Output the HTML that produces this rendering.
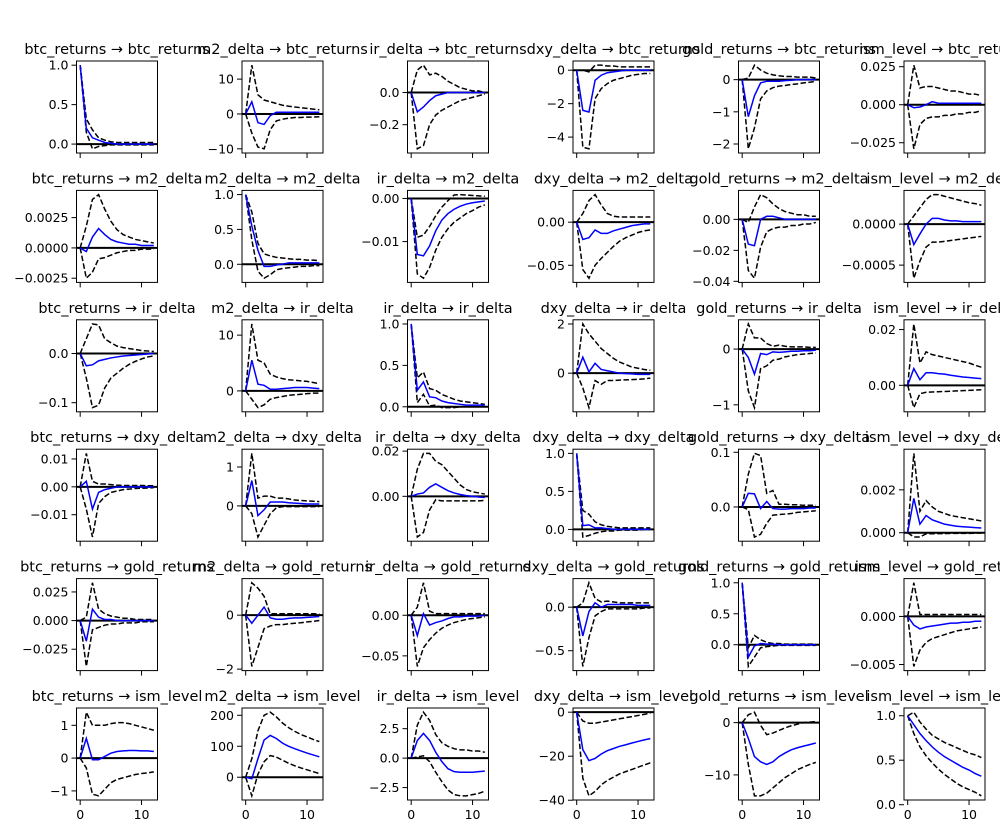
<!DOCTYPE html>
<html><head><meta charset="utf-8">
<style>
html,body{margin:0;padding:0;background:#fff;}
svg{display:block;font-family:"DejaVu Sans","Liberation Sans",sans-serif;}
</style></head>
<body>
<svg id="fig" width="1000" height="833" viewBox="0 0 1000 833" xmlns="http://www.w3.org/2000/svg"></svg>
<script>
const varNames = ["btc_returns","m2_delta","ir_delta","dxy_delta","gold_returns","ism_level"];
const horizons = [0,1,2,3,4,5,6,7,8,9,10,11,12];
const xTicks = [0,10];
// index = row*6 + col ; row = response, col = impulse
const irf = [
[1,0.2,0.08,0.05,0.02,0.01,0,0,0,0,0,0,0],
[0,3.5,-2.5,-3,-0.5,0.5,0.5,0.5,0.5,0.5,0.5,0.5,0.5],
[0,-0.12,-0.09,-0.05,-0.02,-0.01,0,0,0,0,0,0,0],
[0,-2.4,-2.5,-0.6,-0.3,-0.15,-0.1,-0.05,0,0,0,0,0],
[0,-1.15,-0.5,-0.1,-0.05,-0.05,-0.05,-0.03,-0.02,0,0,0,0],
[0,-0.002,-0.0015,0,0.002,0.001,0.001,0.001,0.001,0.001,0.001,0.001,0.001],
[0,-0.0003,0.0009,0.0016,0.0011,0.0007,0.0005,0.0004,0.0003,0.0003,0.0002,0.0002,0.0002],
[1,0.55,0.2,-0.03,-0.03,-0.01,0,0.02,0.02,0.02,0.02,0.02,0.02],
[0,-0.013,-0.0133,-0.011,-0.0075,-0.005,-0.0035,-0.0025,-0.0018,-0.0013,-0.001,-0.0008,-0.0006],
[0,-0.02,-0.018,-0.009,-0.013,-0.013,-0.01,-0.008,-0.006,-0.004,-0.003,-0.002,-0.002],
[0,-0.016,-0.017,0,0.002,0.002,0.001,0,0,0,0,0,0],
[0,-0.00025,-0.00012,0,0.00007,0.00007,0.00005,0.00004,0.00004,0.00003,0.00003,0.00003,0.00003],
[0,-0.025,-0.023,-0.015,-0.012,-0.009,-0.007,-0.005,-0.004,-0.003,-0.002,-0.001,0],
[0,5.5,1.2,1,0.3,0.3,0.4,0.5,0.6,0.6,0.6,0.5,0.4],
[1,0.2,0.3,0.12,0.11,0.07,0.05,0.04,0.03,0.02,0.02,0.02,0.02],
[0,0.65,0.05,0.4,0.15,0.1,0.05,0,-0.02,-0.03,-0.05,-0.05,-0.05],
[0,-0.15,-0.45,-0.08,-0.1,-0.05,-0.06,-0.05,-0.04,-0.04,-0.03,-0.03,-0.02],
[0,0.006,0.002,0.0045,0.0045,0.0042,0.004,0.0036,0.0033,0.003,0.0028,0.0026,0.0024],
[0,0.002,-0.008,-0.002,-0.001,-0.0005,0,0,0,0,0,0,0],
[0,0.65,-0.25,-0.1,0.1,0.1,0.1,0.08,0.07,0.06,0.05,0.05,0.05],
[0,0.001,0.0015,0.004,0.0055,0.004,0.0025,0.0015,0.0008,0.0003,0,-0.0003,-0.0005],
[1,0.05,0.06,0.02,0.02,0.01,0,0,0,0,0,0,0],
[0,0.025,0.024,-0.003,0.01,-0.003,-0.004,-0.004,-0.003,-0.003,-0.003,-0.002,-0.002],
[0,0.0016,0.0004,0.0008,0.0006,0.0005,0.0004,0.00035,0.0003,0.00028,0.00026,0.00024,0.00022],
[0,-0.018,0.01,0.003,0.001,0.001,0,0,0,0,0,0,0],
[0,-0.3,0,0.3,-0.1,-0.15,-0.15,-0.12,-0.1,-0.1,-0.08,-0.07,-0.05],
[0,-0.025,0.002,-0.012,-0.009,-0.007,-0.004,-0.002,-0.002,-0.001,-0.001,-0.001,0],
[0,-0.33,-0.05,0.05,0,0.03,0.03,0.03,0.03,0.03,0.02,0.02,0.02],
[1,-0.2,-0.02,0.02,0.01,0.01,0,0,0,0,0,0,0],
[0,-0.0009,-0.0013,-0.0011,-0.001,-0.0009,-0.0008,-0.0007,-0.0007,-0.0006,-0.0006,-0.0005,-0.0005],
[0,0.6,-0.05,-0.05,0.05,0.15,0.2,0.22,0.23,0.23,0.22,0.22,0.2],
[0,-5,60,120,135,125,110,100,92,85,78,72,66],
[0,1.5,2.1,1.5,0.5,-0.3,-0.9,-1.15,-1.2,-1.2,-1.2,-1.15,-1.1],
[0,-17,-22,-21,-19,-17.5,-16.5,-15.5,-14.8,-14,-13.3,-12.6,-12],
[0,-3,-6.5,-7.5,-8,-7.5,-6.5,-5.8,-5.2,-4.8,-4.5,-4.2,-3.9],
[1,0.9,0.8,0.72,0.65,0.59,0.54,0.5,0.46,0.42,0.39,0.35,0.32]
];
const lower = [
[1,0.15,-0.06,-0.03,-0.02,-0.01,-0.01,-0.01,-0.01,-0.01,-0.01,-0.01,-0.01],
[0,-5.5,-9.5,-10,-4.5,-2,-1.5,-1.2,-1,-1,-0.9,-0.9,-0.8],
[0,-0.35,-0.33,-0.2,-0.14,-0.11,-0.09,-0.07,-0.05,-0.04,-0.03,-0.02,-0.01],
[0,-4.6,-4.7,-1.7,-1.1,-0.8,-0.6,-0.5,-0.4,-0.3,-0.25,-0.2,-0.2],
[0,-2.15,-1.5,-0.6,-0.35,-0.25,-0.2,-0.18,-0.15,-0.13,-0.1,-0.08,-0.05],
[0,-0.029,-0.013,-0.009,-0.008,-0.008,-0.007,-0.007,-0.006,-0.006,-0.005,-0.005,-0.004],
[0,-0.0025,-0.002,-0.0009,-0.0008,-0.0006,-0.0004,-0.0003,-0.0002,-0.0002,-0.0001,-0.0001,-0.0001],
[1,0.35,-0.1,-0.2,-0.15,-0.08,-0.06,-0.05,-0.04,-0.03,-0.03,-0.02,-0.02],
[0,-0.0175,-0.0185,-0.016,-0.012,-0.009,-0.007,-0.0055,-0.0045,-0.0035,-0.0028,-0.002,-0.0015],
[0,-0.055,-0.065,-0.05,-0.042,-0.035,-0.028,-0.022,-0.018,-0.015,-0.012,-0.01,-0.009],
[0,-0.033,-0.038,-0.018,-0.008,-0.006,-0.005,-0.005,-0.004,-0.004,-0.003,-0.003,-0.002],
[0,-0.00066,-0.00045,-0.00028,-0.00022,-0.00022,-0.00021,-0.0002,-0.00019,-0.00018,-0.00017,-0.00016,-0.00015],
[0,-0.05,-0.11,-0.105,-0.07,-0.05,-0.04,-0.03,-0.022,-0.016,-0.011,-0.007,-0.005],
[0,-1.5,-3,-2.5,-1.5,-1.2,-1,-0.8,-0.7,-0.6,-0.5,-0.4,-0.4],
[1,0.05,0.15,0.01,0.02,-0.01,-0.01,-0.01,0,0,0,0,0],
[0,-0.6,-1.4,-0.3,-0.45,-0.3,-0.3,-0.28,-0.27,-0.26,-0.25,-0.23,-0.2],
[0,-0.75,-1.05,-0.35,-0.3,-0.2,-0.18,-0.14,-0.12,-0.1,-0.09,-0.08,-0.07],
[0,-0.008,-0.003,-0.0025,-0.0024,-0.0023,-0.0022,-0.0021,-0.002,-0.0019,-0.0018,-0.0017,-0.0016],
[0,-0.008,-0.018,-0.006,-0.0035,-0.002,-0.0015,-0.001,-0.0008,-0.0006,-0.0005,-0.0004,-0.0003],
[0,-0.2,-0.8,-0.5,-0.2,-0.05,-0.02,-0.02,-0.02,-0.02,-0.02,-0.02,-0.02],
[0,-0.018,-0.016,-0.006,-0.0015,-0.002,-0.002,-0.002,-0.002,-0.002,-0.002,-0.002,-0.0018],
[1,-0.1,-0.08,-0.05,-0.03,-0.02,-0.02,-0.01,-0.01,-0.01,-0.01,0,0],
[0,-0.005,-0.055,-0.05,-0.03,-0.015,-0.014,-0.013,-0.012,-0.01,-0.009,-0.008,-0.007],
[0,-0.0002,-0.0002,-0.00005,-0.00005,-0.00004,-0.00004,-0.00003,-0.00003,-0.00003,-0.00003,-0.00002,-0.00002],
[0,-0.04,-0.008,-0.006,-0.004,-0.003,-0.003,-0.002,-0.002,-0.002,-0.001,-0.001,-0.001],
[0,-1.9,-1.2,-0.5,-0.4,-0.35,-0.35,-0.32,-0.3,-0.28,-0.25,-0.23,-0.2],
[0,-0.063,-0.04,-0.03,-0.022,-0.016,-0.012,-0.009,-0.007,-0.005,-0.004,-0.003,-0.002],
[0,-0.68,-0.35,-0.1,-0.05,-0.02,-0.02,-0.02,-0.02,-0.02,-0.02,-0.01,-0.01],
[1,-0.35,-0.2,-0.05,-0.03,-0.02,-0.01,-0.01,-0.01,-0.01,-0.01,-0.01,-0.01],
[0,-0.0052,-0.0035,-0.0027,-0.0023,-0.0021,-0.0019,-0.0017,-0.0015,-0.0014,-0.0013,-0.0012,-0.0011],
[0,-0.3,-1.1,-1.15,-0.95,-0.75,-0.65,-0.6,-0.55,-0.5,-0.47,-0.45,-0.42],
[0,-60,10,50,70,65,55,45,37,30,24,18,12],
[0,0.1,0.2,-0.3,-1.2,-2,-2.7,-3.1,-3.2,-3.2,-3.1,-3,-2.8],
[0,-30,-38,-36,-33,-31,-29.5,-28,-27,-26,-25,-24,-23],
[0,-8,-14,-14,-13.5,-12.5,-11.5,-10.5,-9.8,-9,-8.5,-8,-7.6],
[1,0.8,0.65,0.55,0.47,0.4,0.34,0.29,0.24,0.2,0.17,0.14,0.1]
];
const upper = [
[1,0.32,0.18,0.08,0.05,0.03,0.02,0.02,0.02,0.02,0.02,0.02,0.02],
[0,14,5.5,4,3.5,3,2.5,2.2,2,1.8,1.6,1.4,1.2],
[0,0.14,0.17,0.11,0.12,0.1,0.07,0.05,0.03,0.02,0.01,0.01,0],
[0,0,-0.1,0.3,0.3,0.25,0.25,0.2,0.2,0.2,0.2,0.2,0.2],
[0,0.05,0.45,0.3,0.2,0.15,0.12,0.1,0.1,0.08,0.08,0.08,0.05],
[0,0.026,0.011,0.012,0.012,0.011,0.01,0.009,0.009,0.008,0.007,0.007,0.006],
[0,0.0018,0.004,0.0044,0.0032,0.0022,0.0015,0.0011,0.0009,0.0007,0.0006,0.0005,0.0004],
[1,0.75,0.3,0.15,0.12,0.1,0.09,0.08,0.07,0.07,0.06,0.06,0.05],
[0,-0.009,-0.0085,-0.0065,-0.004,-0.002,-0.0005,0.0008,0.0009,0.0008,0.0007,0.0006,0.0005],
[0,0.01,0.025,0.032,0.02,0.01,0.007,0.006,0.006,0.006,0.006,0.006,0.006],
[0,-0.002,0.008,0.016,0.014,0.01,0.007,0.005,0.004,0.003,0.003,0.002,0.002],
[0,0.0001,0.0002,0.0003,0.00036,0.00036,0.00034,0.00032,0.0003,0.00028,0.00026,0.00025,0.00023],
[0,0.03,0.06,0.058,0.03,0.022,0.015,0.012,0.01,0.008,0.006,0.005,0.004],
[0,12,5.5,5,3,2.5,2.2,2,1.9,1.8,1.7,1.5,1.3],
[1,0.35,0.42,0.22,0.2,0.15,0.12,0.09,0.07,0.06,0.05,0.04,0.03],
[0,2,1.6,1.3,1,0.8,0.6,0.45,0.35,0.25,0.2,0.15,0.12],
[0,0.45,0.2,0.2,0.1,0.05,0.07,0.05,0.04,0.04,0.04,0.03,0.03],
[0,0.022,0.008,0.012,0.011,0.0105,0.01,0.0095,0.009,0.0085,0.008,0.0072,0.0065],
[0,0.012,0.002,0.001,0.001,0.0008,0.0006,0.0005,0.0005,0.0005,0.0005,0.0004,0.0004],
[0,1.35,0.2,0.25,0.25,0.2,0.2,0.18,0.15,0.14,0.13,0.12,0.11],
[0,0.012,0.019,0.019,0.0155,0.014,0.011,0.008,0.005,0.003,0.002,0.0015,0.001],
[1,0.25,0.2,0.1,0.06,0.04,0.03,0.02,0.02,0.02,0.02,0.02,0.02],
[0,0.06,0.098,0.094,0.025,0.03,0.005,0.005,0.004,0.004,0.003,0.003,0.003],
[0,0.0037,0.001,0.0015,0.0012,0.001,0.0009,0.0008,0.00075,0.0007,0.00065,0.0006,0.00055],
[0,0.003,0.033,0.01,0.006,0.004,0.003,0.002,0.002,0.001,0.001,0.001,0.001],
[0,1.2,1,0.7,0.05,0.05,0.05,0.05,0.05,0.05,0.05,0.05,0.05],
[0,0.01,0.04,0.005,0.002,0.002,0.002,0.002,0.002,0.002,0.002,0.002,0.002],
[0,0.05,0.28,0.1,0.06,0.07,0.06,0.05,0.05,0.05,0.05,0.05,0.05],
[1,-0.05,0.15,0.08,0.04,0.02,0.02,0.01,0.01,0.01,0.01,0.01,0.01],
[0,0.0035,0.0002,0.0002,0.0002,0.0002,0.0002,0.0002,0.0002,0.0002,0.0002,0.0002,0.0002],
[0,1.4,1,1,1,1.05,1.08,1.08,1.05,1,0.95,0.9,0.85],
[0,60,150,200,210,195,175,160,148,138,130,122,115],
[0,2.8,3.9,3.2,2,1.3,1,0.8,0.7,0.7,0.6,0.6,0.5],
[0,-4,-5,-5,-4.5,-4,-3.5,-3,-2.5,-2,-1.5,-1,-0.5],
[0,1.5,2,-0.5,-2.3,-2,-1.5,-1,-0.6,-0.3,0,0.1,0.2],
[1,1.04,0.93,0.85,0.78,0.74,0.7,0.67,0.64,0.61,0.58,0.56,0.53]
];
const yTickVals = [
[0,0.5,1],[-10,0,10],[-0.2,0],[-4,-2,0],[-2,-1,0],[-0.025,0,0.025],
[-0.0025,0,0.0025],[0,0.5,1],[-0.01,0],[-0.05,0],[-0.04,-0.02,0],[-0.0005,0],
[-0.1,0],[0,10],[0,0.5,1],[0,2],[-1,0],[0,0.02],
[-0.01,0,0.01],[0,1],[0,0.02],[0,0.5,1],[0,0.1],[0,0.002],
[-0.025,0,0.025],[-2,0],[-0.05,0],[-0.5,0],[0,0.5,1],[-0.005,0],
[-1,0,1],[0,100,200],[-2.5,0,2.5],[-40,-20,0],[-10,0],[0,0.5,1]
];
const yTickLabels = [
["0.0","0.5","1.0"],["−10","0","10"],["−0.2","0.0"],["−4","−2","0"],["−2","−1","0"],["−0.025","0.000","0.025"],
["−0.0025","0.0000","0.0025"],["0.0","0.5","1.0"],["−0.01","0.00"],["−0.05","0.00"],["−0.04","−0.02","0.00"],["−0.0005","0.0000"],
["−0.1","0.0"],["0","10"],["0.0","0.5","1.0"],["0","2"],["−1","0"],["0.00","0.02"],
["−0.01","0.00","0.01"],["0","1"],["0.00","0.02"],["0.0","0.5","1.0"],["0.0","0.1"],["0.000","0.002"],
["−0.025","0.000","0.025"],["−2","0"],["−0.05","0.00"],["−0.5","0.0"],["0.0","0.5","1.0"],["−0.005","0.000"],
["−1","0","1"],["0","100","200"],["−2.5","0.0","2.5"],["−40","−20","0"],["−10","0"],["0.0","0.5","1.0"]
];

const NS = "http://www.w3.org/2000/svg";
const svg = document.getElementById("fig");
function mk(tag, attrs, parent){ const e=document.createElementNS(NS,tag); for(const k in attrs) e.setAttribute(k,attrs[k]); (parent||svg).appendChild(e); return e; }

const AX_W = 81, AX_H = 92, X0 = 76.5, Y0 = 61, DX = 165.5, DY = 129.4;
const XMIN = -0.6, XMAX = 12.6;

for (let r=0; r<6; r++){
  for (let c=0; c<6; c++){
    const i = r*6+c;
    const left = X0 + c*DX, top = Y0 + r*DY;
    const g = mk("g", {});
    
    
    const all = irf[i].concat(lower[i], upper[i]);
    let mn = Math.min(...all), mx = Math.max(...all);
    const pad = (mx-mn)*0.05; mn -= pad; mx += pad;
    const xs = t => left + (t - XMIN)/(XMAX - XMIN)*AX_W;
    const ys = v => top + AX_H - (v - mn)/(mx - mn)*AX_H;
    const clipId = "clip"+i;
    const cp = mk("clipPath",{id:clipId}, g);
    mk("rect",{x:left,y:top,width:AX_W,height:AX_H}, cp);
    const pts = arr => arr.map((v,k)=>xs(horizons[k]).toFixed(2)+","+ys(v).toFixed(2)).join(" ");
    const plot = mk("g",{"clip-path":"url(#"+clipId+")"}, g);
    const zl = mk("line",{x1:left,x2:left+AX_W,y1:ys(0),y2:ys(0),stroke:"#000","stroke-width":2}, plot);
    
    
    const lo = mk("polyline",{points:pts(lower[i]),fill:"none",stroke:"#000","stroke-width":1.5,"stroke-dasharray":"5.5,2.4"}, plot);
    
    
    const hi = mk("polyline",{points:pts(upper[i]),fill:"none",stroke:"#000","stroke-width":1.5,"stroke-dasharray":"5.5,2.4"}, plot);
    
    
    const ln = mk("polyline",{points:pts(irf[i]),fill:"none",stroke:"#0000ff","stroke-width":1.5}, plot);
    
    
    const fr = mk("rect",{x:left,y:top,width:AX_W,height:AX_H,fill:"none",stroke:"#000","stroke-width":1}, g);
    
    
    // y ticks
    yTickVals[i].forEach((v,k)=>{
      const y = ys(v);
      mk("line",{x1:left-5,x2:left,y1:y,y2:y,stroke:"#000","stroke-width":1}, g);
      const t = mk("text",{x:left-8,y:y+4.5,"text-anchor":"end","font-size":"12.5px",fill:"#000"}, g);
      t.textContent = yTickLabels[i][k];
      
      
    });
    // x ticks
    xTicks.forEach(v=>{
      const x = xs(v);
      mk("line",{x1:x,x2:x,y1:top+AX_H,y2:top+AX_H+5,stroke:"#000","stroke-width":1}, g);
      if (r===5){
        const t = mk("text",{x:x,y:top+AX_H+19,"text-anchor":"middle","font-size":"12.5px",fill:"#000"}, g);
        t.textContent = String(v);
        
        
      }
    });
    const tt = mk("text",{x:left+AX_W/2,y:top-7,"text-anchor":"middle","font-size":"14.5px",fill:"#000"}, g);
    tt.textContent = varNames[c] + " → " + varNames[r];
    
    
  }
}
</script>
</body></html>
